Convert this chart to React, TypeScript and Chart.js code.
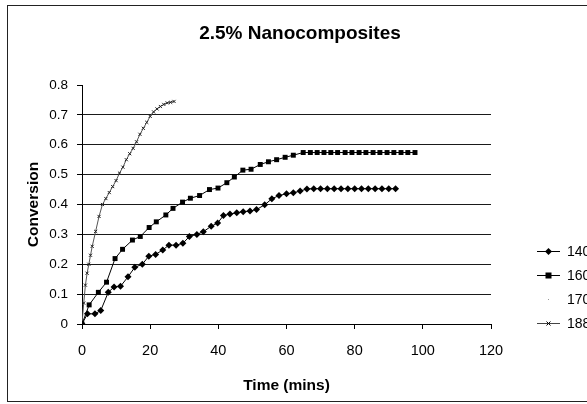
import React, { useEffect, useRef } from 'react';
import { Chart, registerables } from 'chart.js';

Chart.register(...registerables);

const TITLE = '2.5% Nanocomposites';
const X_TITLE = 'Time (mins)';
const Y_TITLE = 'Conversion';
const SERIES_NAMES = ['140', '160', '170', '188'];
const X_TICKS = [0, 20, 40, 60, 80, 100, 120];

const t140 = [0, 1.6, 3.8, 5.5, 7.7, 9.4, 11.3, 13.5, 15.5, 17.7, 19.6, 21.6, 23.7, 25.5, 27.6, 29.6, 31.5, 33.7, 35.6, 37.9, 39.8, 41.5, 43.4, 45.4, 47.3, 49.3, 51.2, 53.6, 55.7, 57.8, 60, 62, 64, 66, 68, 70, 72, 74, 76, 78, 80, 82, 84, 86, 88, 90, 92];
const y140 = [0, 0.034, 0.034, 0.045, 0.106, 0.124, 0.126, 0.158, 0.19, 0.2, 0.227, 0.233, 0.248, 0.264, 0.264, 0.27, 0.293, 0.3, 0.309, 0.327, 0.338, 0.363, 0.368, 0.372, 0.376, 0.378, 0.383, 0.399, 0.419, 0.43, 0.436, 0.439, 0.445, 0.452, 0.453, 0.453, 0.453, 0.453, 0.453, 0.453, 0.453, 0.453, 0.453, 0.453, 0.453, 0.453, 0.453];

const t160 = [0, 2.1, 4.8, 7.2, 9.7, 11.9, 14.8, 17.1, 19.7, 21.8, 24.6, 26.7, 29.5, 31.8, 34.5, 37.4, 39.9, 42.5, 44.7, 47.2, 49.6, 52.3, 54.7, 57.1, 59.6, 62, 64.9, 67, 69, 71, 73, 75, 77.2, 79.2, 81.3, 83.3, 85.4, 87.4, 89.5, 91.5, 93.6, 95.6, 97.7];
const y160 = [0, 0.064, 0.106, 0.14, 0.219, 0.25, 0.281, 0.293, 0.323, 0.342, 0.365, 0.387, 0.408, 0.421, 0.43, 0.45, 0.455, 0.473, 0.492, 0.515, 0.518, 0.534, 0.543, 0.55, 0.558, 0.565, 0.574, 0.574, 0.574, 0.574, 0.574, 0.574, 0.574, 0.574, 0.574, 0.574, 0.574, 0.574, 0.574, 0.574, 0.574, 0.574, 0.574];

const t170: number[] = [];
const y170: number[] = [];

const t188 = [0, 0.5, 1, 1.5, 2, 2.5, 3, 4, 5, 6, 7, 8, 9, 10, 11, 12, 13, 14, 15, 16, 17, 18, 19, 20, 21, 22, 23, 24, 25, 26, 27];
const y188 = [0, 0.07, 0.13, 0.17, 0.2, 0.23, 0.26, 0.31, 0.36, 0.4, 0.42, 0.44, 0.46, 0.48, 0.505, 0.525, 0.55, 0.57, 0.588, 0.61, 0.635, 0.655, 0.675, 0.695, 0.71, 0.72, 0.728, 0.735, 0.74, 0.742, 0.745];

const FONT = '"Liberation Sans", Arial, Helvetica, sans-serif';

const zip = (t: number[], y: number[]) => t.map((x, i) => ({ x, y: y[i] }));

function drawMarker(ctx: CanvasRenderingContext2D, kind: string, x: number, y: number) {
  ctx.save();
  ctx.fillStyle = '#000';
  ctx.strokeStyle = '#000';
  ctx.lineWidth = 1;
  if (kind === 'diamond') {
    ctx.beginPath();
    ctx.moveTo(x, y - 3.5);
    ctx.lineTo(x + 3.5, y);
    ctx.lineTo(x, y + 3.5);
    ctx.lineTo(x - 3.5, y);
    ctx.closePath();
    ctx.fill();
  } else if (kind === 'square') {
    ctx.fillRect(x - 3, y - 3, 6, 6);
  } else if (kind === 'cross') {
    ctx.beginPath();
    ctx.moveTo(x - 2, y - 2);
    ctx.lineTo(x + 2, y + 2);
    ctx.moveTo(x + 2, y - 2);
    ctx.lineTo(x - 2, y + 2);
    ctx.stroke();
  } else {
    ctx.fillStyle = '#999';
    ctx.fillRect(x - 0.5, y - 0.5, 1, 1);
  }
  ctx.restore();
}

const decorPlugin = {
  id: 'decor',
  beforeDraw(chart: any) {
    const { ctx, width, height } = chart;
    ctx.save();
    ctx.fillStyle = '#fff';
    ctx.fillRect(0, 0, width, height);
    ctx.strokeStyle = '#222';
    ctx.lineWidth = 1;
    ctx.strokeRect(7.5, 5.5, width + 10, 396);
    ctx.restore();
  },
  afterDraw(chart: any) {
    const { ctx, chartArea } = chart;
    const { right, bottom } = chartArea;
    ctx.save();
    ctx.fillStyle = '#000';
    ctx.textAlign = 'center';
    ctx.textBaseline = 'middle';
    ctx.font = `bold 19px ${FONT}`;
    ctx.fillText(TITLE, 300, 34);

    const kinds = ['diamond', 'square', 'dot', 'cross'];
    const offsets = [73, 49, 25, 1];
    ctx.font = `14px ${FONT}`;
    ctx.textAlign = 'left';
    SERIES_NAMES.forEach((name, i) => {
      const y = bottom - offsets[i];
      const x0 = right + 46;
      const x1 = right + 69;
      if (kinds[i] !== 'dot') {
        ctx.strokeStyle = kinds[i] === 'cross' ? '#444' : '#000';
        ctx.lineWidth = 1;
        ctx.beginPath();
        ctx.moveTo(x0, y + 0.5);
        ctx.lineTo(x1, y + 0.5);
        ctx.stroke();
      }
      drawMarker(ctx, kinds[i], (x0 + x1) / 2, y + 0.5);
      ctx.fillStyle = '#000';
      ctx.fillText(name, right + 76, y + 1);
    });
    ctx.restore();
  },
};

export default function App() {
  const ref = useRef<HTMLCanvasElement>(null);
  useEffect(() => {
    const chart = new Chart(ref.current as HTMLCanvasElement, {
      type: 'line',
      data: {
        datasets: [
          {
            label: SERIES_NAMES[0],
            data: zip(t140, y140),
            borderColor: '#000',
            borderWidth: 1,
            pointStyle: 'rectRot',
            pointRadius: 3.5,
            pointBackgroundColor: '#000',
            pointBorderColor: '#000',
            pointBorderWidth: 0,
          },
          {
            label: SERIES_NAMES[1],
            data: zip(t160, y160),
            borderColor: '#000',
            borderWidth: 1,
            pointStyle: 'rect',
            pointRadius: 3.5,
            pointBackgroundColor: '#000',
            pointBorderColor: '#000',
            pointBorderWidth: 0,
          },
          {
            label: SERIES_NAMES[2],
            data: zip(t170, y170),
            borderColor: '#999',
            borderWidth: 1,
            pointRadius: 1,
          },
          {
            label: SERIES_NAMES[3],
            data: zip(t188, y188),
            borderColor: '#555',
            borderWidth: 1,
            pointStyle: 'crossRot',
            pointRadius: 2.2,
            pointBorderColor: '#222',
            pointBorderWidth: 1,
          },
        ],
      },
      options: {
        animation: false,
        responsive: false,
        devicePixelRatio: 1,
        layout: { padding: { left: 10, right: 109, top: 85, bottom: 9 } },
        plugins: {
          legend: { display: false },
          title: { display: false },
          tooltip: { enabled: false },
        },
        scales: {
          x: {
            type: 'linear',
            min: X_TICKS[0],
            max: X_TICKS[X_TICKS.length - 1],
            ticks: {
              stepSize: 20,
              color: '#000',
              padding: 13,
              font: { family: FONT, size: 14.5 },
            },
            grid: { drawOnChartArea: false, tickLength: 5, color: '#000' },
            border: { color: '#000', width: 1 },
            title: {
              display: true,
              text: X_TITLE,
              color: '#000',
              font: { family: FONT, size: 15.5, weight: 'bold' },
              padding: { top: 0, bottom: 0 },
            },
            afterFit: (s: any) => {
              s.height = 71;
            },
          },
          y: {
            min: 0,
            max: 0.8,
            ticks: {
              stepSize: 0.1,
              color: '#000',
              padding: 9,
              font: { family: FONT, size: 13.5 },
              callback: (v: any) => {
                const r = Math.round(Number(v) * 10) / 10;
                return r === 0 ? '0' : r.toFixed(1);
              },
            },
            grid: {
              tickLength: 5,
              tickColor: '#000',
              color: (c: any) => (c.tick && c.tick.value > 0.75 ? 'rgba(0,0,0,0)' : '#1a1a1a'),
            },
            border: { color: '#000', width: 1 },
            title: {
              display: true,
              text: Y_TITLE,
              color: '#000',
              font: { family: FONT, size: 15.5, weight: 'bold' },
              padding: { top: 14, bottom: 0 },
            },
            afterFit: (s: any) => {
              s.width = 72;
            },
          },
        },
      },
      plugins: [decorPlugin],
    } as any);
    return () => chart.destroy();
  }, []);
  return (
    <div
      style={{
        position: 'absolute',
        left: 0,
        top: 0,
        width: 587,
        height: 404,
        overflow: 'hidden',
        background: '#fff',
      }}
    >
      <canvas ref={ref} width={600} height={404} style={{ display: 'block', width: 600, height: 404 }} />
    </div>
  );
}
